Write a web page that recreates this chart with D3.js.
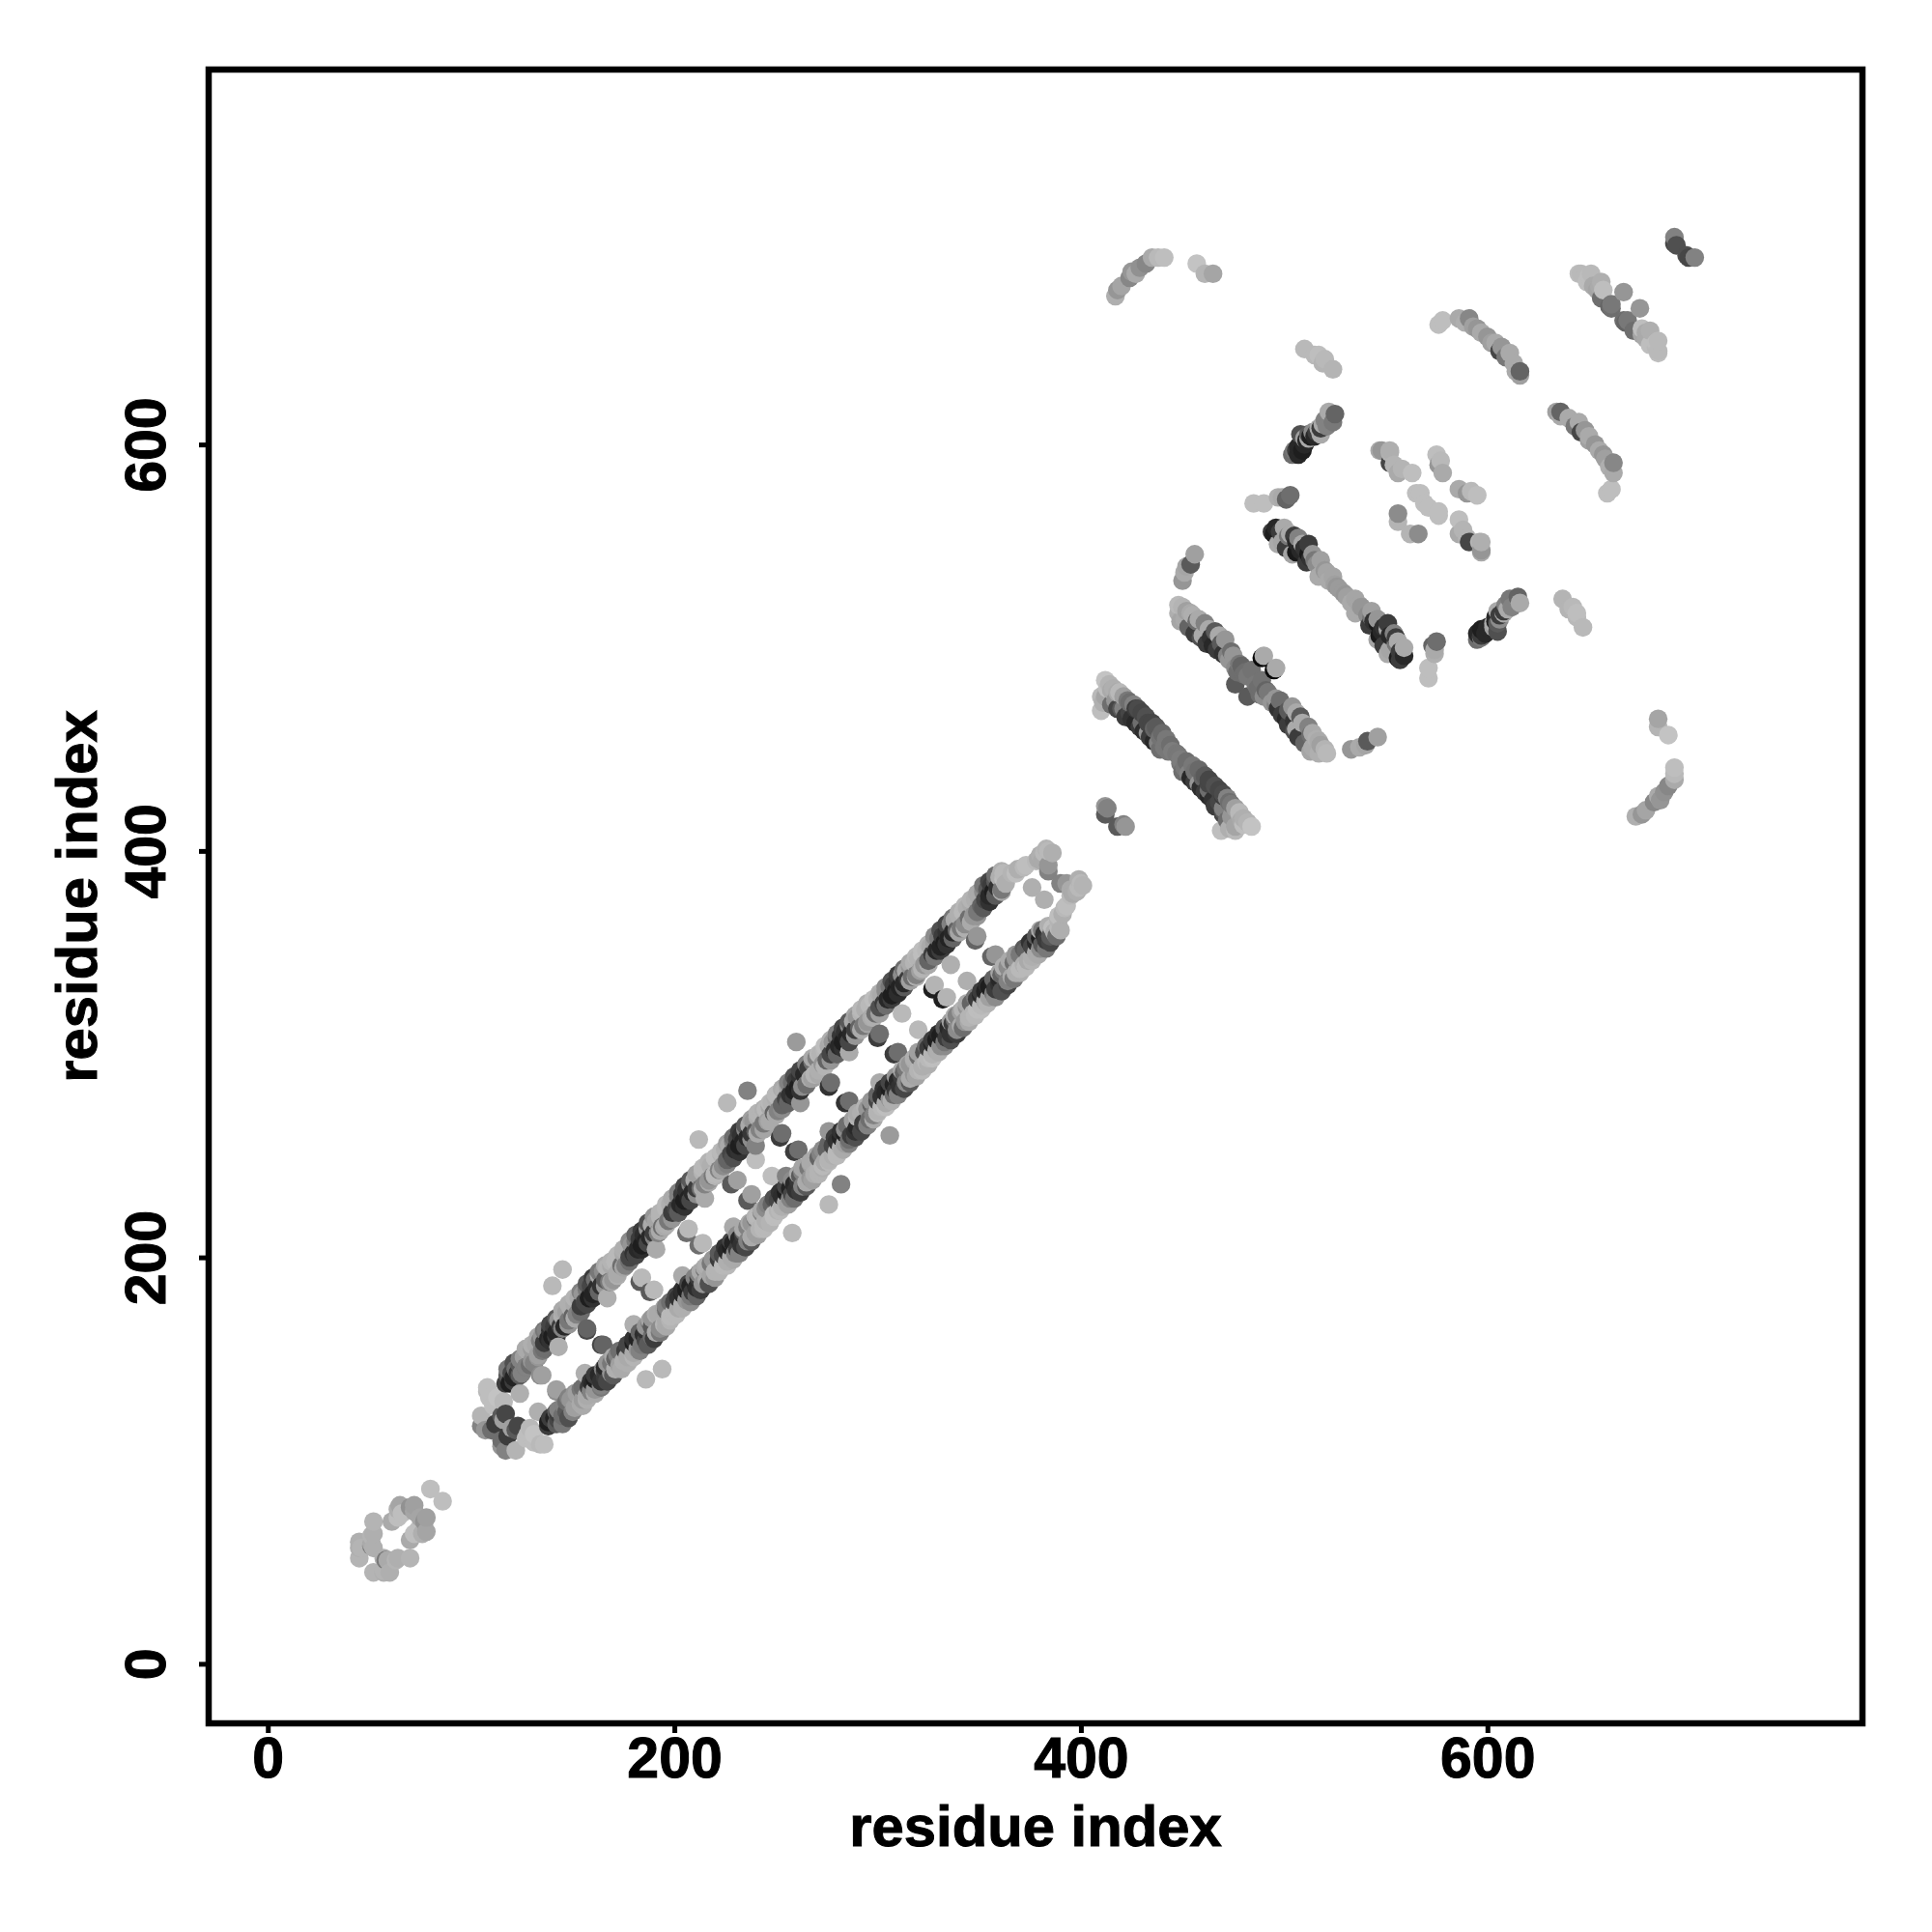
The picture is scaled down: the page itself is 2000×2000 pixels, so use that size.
<!DOCTYPE html>
<html><head><meta charset="utf-8">
<script src="https://cdn.jsdelivr.net/npm/d3@7/dist/d3.min.js"></script>
<style>html,body{margin:0;padding:0;background:#fff}svg{display:block}</style>
</head><body><div id="chart"></div>
<script>
// Every row: [residue i, residue j, grey level]. The map is symmetric, so each row is drawn at (i,j) and (j,i).
const tickLabels=[0,200,400,600];
const axisTitle="residue index";
const ring=[[45,60,175],[45,52,180],[46,57,180],[45,57,175],[52,70,180],[51,59,170],[51,58,120],[51,63,180],[52,64,175],[52,57,175],[61,70,170],[64,76,175],[65,78,165],[66,74,190],[70,77,145],[64,72,190],[72,78,160],[72,75,165],[80,86,190]];
const helixStart=[[105,117,130],[105,122,180],[107,115,150],[108,134,185],[109,131,190],[108,136,190],[110,115,110],[111,127,190],[113,128,190],[113,131,195],[112,118,60],[115,122,90],[116,120,160],[117,123,70],[116,129,185],[124,133,175]];
const band1=[[117,138,60],[118,142,90],[119,138,30],[120,143,70],[121,141,35],[122,145,110],[123,143,60],[124,147,90],[125,143,130],[126,151,160],[127,146,120],[128,154,170],[129,147,110],[130,155,155],[131,148,130],[132,157,170],[133,151,150],[134,159,130]];
const band2=[[135,154,120],[135,161,150],[136,158,60],[137,164,130],[138,160,40],[139,164,50],[140,161,30],[141,166,60],[142,163,40],[143,169,150],[144,166,60],[145,171,175],[146,166,40],[147,173,160],[148,169,120],[149,175,175],[150,171,100],[151,177,170]];
const band3=[[152,172,130],[153,180,170],[154,176,60],[155,182,150],[156,178,70],[157,184,120],[158,180,30],[159,186,70],[160,182,35],[161,189,110],[162,185,45],[163,191,170],[164,186,50],[165,193,140],[166,189,90],[167,195,180],[168,188,120],[169,196,170],[170,189,150],[171,198,185]];
const band4=[[172,192,170],[173,200,185],[174,196,110],[175,202,170],[176,196,130],[177,204,175],[178,200,70],[179,206,150],[180,202,50],[181,208,120],[182,204,40],[183,209,60],[184,206,30],[185,211,45],[186,208,35],[187,214,150],[188,210,40],[189,216,170],[190,212,60],[191,218,165],[192,212,130],[193,220,180],[194,215,110]];
const band5=[[195,215,170],[196,224,185],[197,218,120],[198,226,175],[199,222,60],[200,228,170],[201,224,70],[202,230,130],[203,226,40],[204,231,60],[205,228,30],[206,233,50],[207,229,35],[208,236,130],[209,232,40],[210,238,170],[211,234,60],[212,240,160],[213,234,110],[214,242,180],[215,236,130],[216,244,185],[217,238,150],[218,245,175],[219,240,120]];
const band6=[[220,241,185],[221,249,190],[222,243,130],[223,251,180],[224,245,140],[225,253,175],[226,248,100],[227,255,170],[228,251,70],[229,257,130],[230,253,45],[231,258,70],[232,255,30],[233,260,50],[234,257,35],[235,263,130],[236,259,40],[237,265,170],[238,261,55],[239,267,150],[240,262,90],[241,269,175],[242,263,130],[243,271,180],[244,266,120],[245,273,185],[246,267,160],[247,274,170]];
const band7=[[248,276,180],[249,271,100],[250,278,175],[251,272,130],[252,280,185],[253,275,100],[254,282,175],[255,278,70],[256,284,160],[257,280,50],[258,286,110],[259,282,35],[260,287,60],[261,284,30],[262,289,50],[263,284,140],[264,290,40],[265,285,170],[266,293,60],[267,288,170],[268,296,110],[269,290,180],[270,298,130],[271,292,175],[272,300,180]];
const band8=[[273,295,150],[274,302,185],[275,297,100],[276,304,170],[277,300,70],[278,306,150],[279,302,50],[280,308,110],[281,304,40],[282,309,55],[283,306,30],[284,311,50],[285,308,35],[286,314,140],[287,310,40],[288,316,170],[289,312,60],[290,318,150],[291,313,100],[292,320,180],[293,314,120],[294,322,175],[295,316,150],[296,324,185],[297,318,170]];
const band9=[[298,325,185],[299,320,110],[300,327,180],[301,323,80],[302,329,170],[303,325,60],[304,331,140],[305,327,40],[306,333,120],[307,329,30],[308,334,60],[309,331,30],[310,336,50],[311,333,35],[312,339,140],[313,335,40],[314,341,170],[315,337,60],[316,343,150],[317,338,110],[318,345,180],[319,339,130],[320,347,180],[321,341,160],[322,349,190]];
const band10=[[323,344,150],[324,351,185],[325,346,100],[326,353,170],[327,349,60],[328,355,160],[329,351,40],[330,357,120],[331,353,35],[332,358,60],[333,355,30],[334,360,50],[335,357,35],[336,364,130],[337,360,40],[338,366,170],[339,361,100],[340,368,175],[341,362,120],[342,370,185],[343,364,140],[344,372,175],[345,367,110],[346,374,170]];
const band11=[[347,368,150],[348,376,175],[349,370,120],[350,378,170],[351,373,100],[352,380,140],[353,376,70],[354,381,90],[355,378,40],[356,383,60],[357,380,30],[358,385,90],[359,382,50],[360,387,175],[361,381,120],[362,389,185],[363,384,175]];
const railOuter=[[118,145,120],[121,148,80],[124,150,130],[127,155,170],[130,157,175],[133,161,170],[136,164,120],[139,167,70],[142,170,90],[145,174,170],[148,177,175],[151,180,180],[154,183,130],[157,187,90],[160,190,60],[163,193,120],[166,196,170],[169,198,180],[172,201,185],[175,204,175],[178,208,140],[181,211,100],[184,213,60],[187,217,80],[190,220,150],[193,222,180],[196,226,185],[199,229,170],[202,232,130],[205,235,70],[208,238,90],[211,241,160],[214,244,185],[217,247,180],[220,249,190],[223,252,185],[226,256,160],[229,259,110],[232,262,60],[235,265,90],[238,268,160],[241,271,180],[244,273,175],[247,276,185],[250,280,185],[253,283,170],[256,286,130],[259,289,80],[262,292,70],[265,295,130],[268,298,170],[271,300,185],[274,304,190],[277,307,175],[280,310,130],[283,313,70],[286,316,90],[289,319,165],[292,322,185],[295,325,175],[298,327,190],[301,330,175],[304,333,140],[307,336,80],[310,339,60],[313,342,110],[316,345,170],[319,348,185],[322,351,190],[325,354,180],[328,358,140],[331,361,80],[334,364,70],[337,367,120],[340,370,175],[343,373,185],[346,376,180],[349,379,170],[352,383,120],[355,385,70],[358,388,110],[361,390,175]];
const railInner=[[121,139,60],[124,142,90],[127,146,130],[130,149,150],[133,152,160],[136,155,110],[139,159,50],[142,161,60],[145,165,130],[148,167,150],[151,170,170],[154,173,110],[157,177,70],[160,180,50],[163,183,100],[166,186,150],[169,188,165],[172,191,175],[175,195,165],[178,198,110],[181,201,70],[184,204,45],[187,207,70],[190,210,130],[193,213,170],[196,216,175],[199,219,150],[202,222,90],[205,225,50],[208,228,70],[211,231,140],[214,234,170],[217,237,170],[220,240,180],[223,243,170],[226,246,130],[229,249,80],[232,252,50],[235,255,70],[238,258,140],[241,261,170],[244,263,165],[247,267,170],[250,270,170],[253,273,140],[256,276,100],[259,279,60],[262,282,50],[265,285,110],[268,288,160],[271,290,170],[274,294,180],[277,297,150],[280,300,100],[283,303,50],[286,306,70],[289,309,150],[292,312,170],[295,315,165],[298,318,175],[301,320,160],[304,324,110],[307,327,60],[310,330,45],[313,333,90],[316,336,160],[319,338,175],[322,342,180],[325,344,170],[328,348,120],[331,351,60],[334,354,50],[337,357,100],[340,360,165],[343,362,175],[346,365,170],[349,368,150],[352,372,90],[355,375,50],[358,378,90],[361,380,170]];
const helixEnd=[[362,386,190],[366,389,180],[368,389,190],[369,391,175],[372,392,185],[373,393,190],[376,382,175],[378,395,185],[379,396,170],[380,398,175],[381,395,170],[382,399,185],[383,401,180],[384,390,130],[384,393,150],[384,400,185],[386,399,175]];
const rungs=[[134,142,140],[142,135,160],[143,156,175],[157,164,70],[157,165,100],[167,180,175],[183,188,90],[184,190,185],[191,204,170],[206,212,110],[207,214,185],[215,229,170],[228,236,90],[231,238,160],[240,248,190],[240,255,130],[252,259,60],[253,261,110],[262,276,150],[276,284,50],[277,286,110],[286,301,170],[300,308,60],[301,310,110],[312,320,185],[327,332,30],[328,334,180],[336,344,175],[348,356,100],[349,358,150]];
const strays=[[140,186,185],[145,194,185],[212,258,185],[226,276,185],[236,282,130],[260,306,155]];
const cornerC=[[412,418,90],[412,422,150],[413,421,130]];
const barL=[[410,469,190],[410,476,185],[411,473,175],[412,484,195],[412,476,165],[413,480,190],[414,482,180],[415,472,110],[415,479,170],[416,480,175],[417,474,150],[418,470,70],[418,478,170],[419,478,185],[420,470,90],[421,470,130],[421,476,160],[422,466,60],[423,474,120],[424,468,70],[424,473,110],[425,465,50],[426,472,130],[427,463,40],[427,470,60],[428,470,75],[429,461,60],[430,463,110],[430,468,70],[431,459,45],[432,466,80],[433,458,150],[433,463,70],[434,456,60],[435,463,70],[436,454,40],[436,460,100],[437,461,90],[438,453,130],[439,450,110],[439,456,115],[440,458,105],[441,451,120],[442,455,120],[443,449,120],[444,452,110],[445,449,125],[447,448,120]];
const arcA=[[417,673,175],[418,676,150],[420,678,165],[424,682,135],[425,685,150],[427,684,170],[429,687,145],[432,689,135],[435,692,170],[438,692,185],[441,692,190],[457,689,195],[461,684,180],[465,684,165]];
const barJ=[[450,533,150],[451,537,170],[452,540,165],[454,541,90],[456,546,160]];
const barK=[[448,521,185],[448,517,175],[449,513,165],[450,520,180],[451,514,170],[452,518,160],[453,510,100],[454,517,170],[455,516,175],[456,507,60],[457,513,110],[458,514,170],[459,505,80],[460,506,170],[461,512,130],[462,502,60],[463,509,170],[464,505,50],[465,501,40],[466,508,90],[467,499,60],[468,506,170],[469,502,90],[470,497,50],[471,504,150],[472,496,130],[473,494,150],[474,498,110],[475,496,150],[476,482,90],[476,490,140],[477,488,110],[478,492,120],[479,491,100],[480,487,110],[481,488,110],[482,486,120],[484,489,115],[489,495,10],[490,496,170]];
const barH=[[485,571,190],[490,571,190],[497,574,175],[499,574,170],[501,573,100],[503,575,110]];
const barI=[[494,557,60],[495,556,30],[496,559,40],[497,551,170],[498,557,60],[499,552,165],[500,559,170],[501,549,60],[502,555,120],[503,556,170],[504,546,165],[505,555,60],[506,547,25],[506,552,40],[507,554,130],[508,548,40],[509,551,170],[510,549,50],[511,542,60],[512,551,60],[512,546,25],[513,544,50],[514,546,150],[515,543,120],[516,541,140],[518,543,160],[517,535,170],[519,537,170],[520,538,150],[521,537,165],[522,533,170],[524,535,165],[525,531,160],[526,530,150],[527,529,155]];
const barG=[[504,595,110],[505,597,120],[506,597,60],[507,595,40],[507,599,40],[508,605,80],[509,597,30],[510,600,40],[510,603,160],[511,602,40],[512,605,90],[512,603,170],[513,604,30],[514,606,140],[515,604,40],[516,606,60],[517,608,170],[518,605,170],[518,608,60],[519,610,170],[520,612,130],[521,609,130],[522,616,170],[524,611,120],[525,615,100]];
const barF=[[510,647,185],[515,644,185],[517,644,190],[519,640,180],[520,642,185],[524,637,180]];
const crossM=[[547,597,170],[548,597,150],[552,591,70],[552,597,175],[552,596,180],[554,590,180],[556,562,180],[556,566,140],[556,586,170],[558,588,180],[563,586,190],[565,576,190],[567,576,190],[569,571,190],[575,595,190],[576,590,150],[577,592,185],[578,586,170]];
const barE=[[576,659,190],[578,661,190],[586,662,170],[589,660,175],[591,662,135],[593,658,160],[595,657,150],[597,655,170],[600,653,150],[602,650,160],[604,650,170],[606,646,70],[607,648,150],[609,643,120],[611,645,170],[613,640,170],[614,636,170],[616,634,160],[616,636,100]];
const barD=[[645,684,190],[646,684,185],[648,683,185],[649,680,190],[650,683,190],[651,684,185],[652,678,170],[654,676,165],[655,678,170],[656,680,175],[656,672,110],[657,676,190],[660,668,100],[661,667,110],[661,669,120],[667,675,150]];
const cornerB=[[692,699,70],[692,702,130],[693,698,80]];

const contactGroups=[ring,helixStart,band1,band2,band3,band4,band5,band6,band7,band8,band9,band10,band11,railOuter,railInner,helixEnd,rungs,strays,cornerC,barL,arcA,barJ,barK,barH,barI,barG,barF,crossM,barE,barD,cornerB];

const W=2000,H=2000;
const frame={left:216,right:1928,top:72,bottom:1784};
const x=d3.scaleLinear().domain([-29.1,784.5]).range([frame.left,frame.right]);
const y=d3.scaleLinear().domain([-29.3,784.5]).range([frame.bottom,frame.top]);

const marks=[];
contactGroups.flat().forEach(([i,j,g])=>{marks.push({x:i,y:j,g});marks.push({x:j,y:i,g});});
marks.sort((a,b)=>d3.ascending(a.x,b.x)||d3.ascending(a.y,b.y));

const svg=d3.select("#chart").append("svg").attr("width",W).attr("height",H).attr("viewBox",[0,0,W,H]);
svg.append("rect").attr("width",W).attr("height",H).attr("fill","#fff");

svg.append("g").selectAll("circle").data(marks).join("circle")
  .attr("cx",d=>x(d.x)).attr("cy",d=>y(d.y)).attr("r",9.7)
  .attr("fill",d=>d3.rgb(d.g,d.g,d.g));

svg.append("rect").attr("x",frame.left).attr("y",frame.top)
  .attr("width",frame.right-frame.left).attr("height",frame.bottom-frame.top)
  .attr("fill","none").attr("stroke","#000").attr("stroke-width",6.5);

const font="'Liberation Sans',Arial,Helvetica,sans-serif";
const styleText=s=>s.attr("fill","#000").attr("stroke","#000").attr("stroke-width",1)
  .attr("font-family",font).attr("font-weight",700);
const gx=svg.append("g").attr("transform",`translate(0,${frame.bottom})`)
  .call(d3.axisBottom(x).tickValues(tickLabels).tickSize(10).tickPadding(0));
gx.select(".domain").remove();
gx.selectAll("line").attr("stroke","#000").attr("stroke-width",5);
gx.selectAll("text").attr("y",56).attr("dy",null).call(styleText).attr("font-size",59);

const gy=svg.append("g").attr("transform",`translate(${frame.left},0)`)
  .call(d3.axisLeft(y).tickValues(tickLabels).tickSize(10).tickPadding(0));
gy.select(".domain").remove();
gy.selectAll("line").attr("stroke","#000").attr("stroke-width",5);
gy.selectAll("text").attr("x",null).attr("y",null).attr("dy",null)
  .attr("transform","translate(-45,0) rotate(-90)").attr("text-anchor","middle").call(styleText).attr("font-size",59);

svg.append("text").attr("x",(frame.left+frame.right)/2).attr("y",1911).attr("text-anchor","middle")
  .call(styleText).attr("font-size",59.8).text(axisTitle);
svg.append("text").attr("transform",`translate(99.5,${(frame.top+frame.bottom)/2}) rotate(-90)`).attr("text-anchor","middle")
  .call(styleText).attr("font-size",59.8).text(axisTitle);
</script></body></html>
